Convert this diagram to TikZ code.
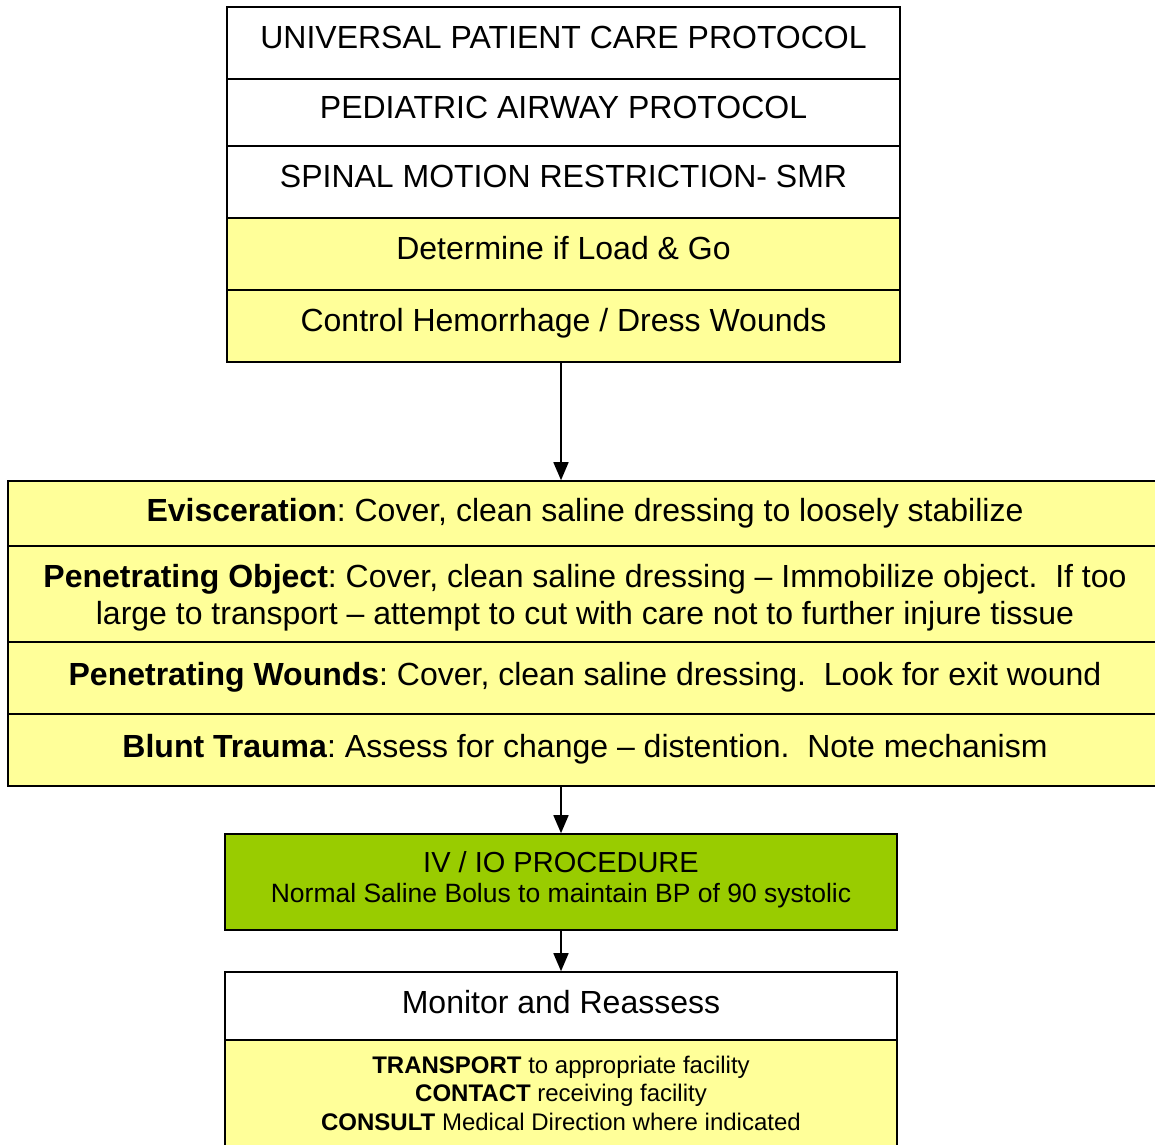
\documentclass[tikz,border=0pt]{standalone}
\usepackage{fontspec}
\setmainfont{Liberation Sans}
\usetikzlibrary{arrows.meta}
\definecolor{lyellow}{HTML}{FFFF99}
\definecolor{lgreen}{HTML}{99CC00}
\begin{document}
\frenchspacing
\begin{tikzpicture}[x=1pt,y=-1pt,
  box/.style={draw, line width=1.6pt, inner sep=0pt, align=center,
    font=\fontsize{32}{37}\selectfont\frenchspacing},
  oneline/.style={text height=24pt, text depth=9pt},
  topbox/.style={box, oneline, text depth=13pt, minimum width=673pt},
  midbox/.style={box, fill=lyellow, minimum width=1154pt},
  lowbox/.style={box, minimum width=672pt},
  arr/.style={line width=1.6pt, -{Triangle[width=15pt,length=18pt]}}]
\useasboundingbox (0,0) rectangle (1155,1144);
% top stack
\node[topbox, minimum height=72pt] (t1) at (563.5,43) {UNIVERSAL PATIENT CARE PROTOCOL};
\node[topbox, minimum height=67pt] (t2) at (563.5,112.5) {PEDIATRIC AIRWAY PROTOCOL};
\node[topbox, minimum height=72pt] (t3) at (563.5,182) {SPINAL MOTION RESTRICTION- SMR};
\node[topbox, fill=lyellow, minimum height=72pt] (t4) at (563.5,254) {Determine if Load \& Go};
\node[topbox, fill=lyellow, minimum height=72pt] (t5) at (563.5,326) {Control Hemorrhage / Dress Wounds};
% middle stack
\node[midbox, oneline, minimum height=65pt] (m1) at (585,513.5) {\textbf{Evisceration}: Cover, clean saline dressing to loosely stabilize};
\node[midbox, minimum height=96pt, text height=69pt, text depth=9pt] (m2) at (585,594) {\textbf{Penetrating Object}: Cover, clean saline dressing -- Immobilize object.\ \ If too\\large to transport -- attempt to cut with care not to further injure tissue};
\node[midbox, oneline, minimum height=72pt] (m3) at (585,678) {\textbf{Penetrating Wounds}: Cover, clean saline dressing.\ \ Look for exit wound};
\node[midbox, oneline, minimum height=72pt] (m4) at (585,750) {\textbf{Blunt Trauma}: Assess for change -- distention.\ \ Note mechanism};
% green box
\node[lowbox, fill=lgreen, minimum height=96pt, text height=50pt, text depth=9pt] (g) at (561,882)
  {{\fontsize{29}{34}\selectfont IV / IO PROCEDURE}\\[-7pt]{\fontsize{26.5}{31}\selectfont Normal Saline Bolus to maintain BP of 90 systolic}};
% bottom stack
\node[lowbox, oneline, minimum height=68pt] (b1) at (561,1006) {Monitor and Reassess};
\node[lowbox, fill=lyellow, minimum height=106pt, font=\fontsize{24}{28.5}\selectfont\frenchspacing] (b2) at (561,1093)
  {\textbf{TRANSPORT} to appropriate facility\\\textbf{CONTACT} receiving facility\\\textbf{CONSULT} Medical Direction where indicated};
% arrows
\draw[arr] (t5.south -| g.north) -- (m1.north -| g.north);
\draw[arr] (m4.south -| g.north) -- (g.north);
\draw[arr] (g.south) -- (b1.north);
\end{tikzpicture}
\end{document}
